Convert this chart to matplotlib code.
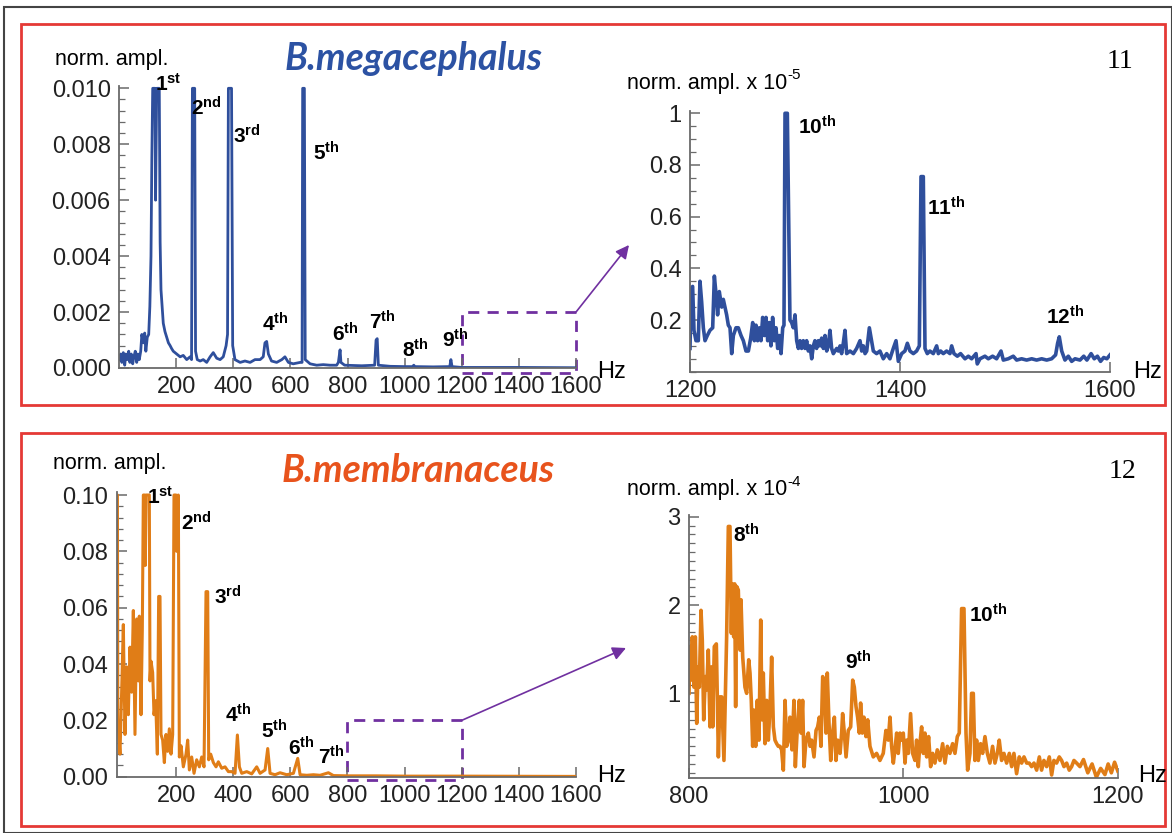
#!/usr/bin/env python3
"""
Normalised amplitude spectra of two Bombus species with zoomed insets
"""

import matplotlib
matplotlib.use("Agg")
import matplotlib.pyplot as plt
from matplotlib.patches import Rectangle
from matplotlib.ticker import MultipleLocator

plt.rcParams['font.family'] = ['Liberation Sans', 'DejaVu Sans']
plt.rcParams['mathtext.fontset'] = 'custom'
plt.rcParams['mathtext.rm'] = 'Liberation Sans'
plt.rcParams['mathtext.bf'] = 'Liberation Sans:bold'
plt.rcParams['mathtext.it'] = 'Liberation Sans:italic'

# ---- data: B. megacephalus, full spectrum (Hz, norm. ampl.) ----
mega_hz = [0, 6, 10, 15, 20, 24, 29, 34, 38, 43, 48, 52, 57, 62, 66, 71, 76, 80, 85, 90,
           94, 99, 104, 108, 112, 115, 118, 126, 128, 132, 141, 144, 147, 151, 155, 161,
           167, 173, 179, 184, 190, 202, 214, 225, 237, 249, 254, 257, 265, 268, 274,
           284, 295, 307, 319, 330, 342, 354, 365, 375, 380, 383, 394, 398, 406, 424,
           441, 459, 476, 494, 505, 511, 517, 523, 534, 552, 570, 581, 593, 610, 634,
           641, 643, 649, 652, 669, 692, 715, 739, 762, 768, 774, 777, 790, 850, 895,
           900, 904, 908, 950, 1000, 1028, 1032, 1036, 1100, 1158, 1162, 1166, 1200,
           1400, 1600]
mega_amp = [0.0003, 0.0005, 0.0002, 0.00055, 0.0001, 0.0005, 0.0003, 0.0006, 0.0002,
            0.0005, 0.00015, 0.0004, 0.0006, 0.0002, 0.0005, 0.0003, 0.0006, 0.0012,
            0.0009, 0.00125, 0.0006, 0.0011, 0.0012, 0.0022, 0.004, 0.0075, 0.0100,
            0.0100, 0.0060, 0.0100, 0.0100, 0.0045, 0.0028, 0.0022, 0.0016, 0.0013,
            0.0011, 0.0009, 0.0008, 0.0007, 0.0006, 0.0005, 0.0004, 0.00045, 0.0003,
            0.0004, 0.0003, 0.0100, 0.0100, 0.0006, 0.0003, 0.00025, 0.0003, 0.0002,
            0.0004, 0.00055, 0.00035, 0.0003, 0.0004, 0.0008, 0.0012, 0.0100, 0.0100,
            0.0008, 0.0003, 0.0002, 0.00025, 0.0002, 0.0003, 0.0003, 0.0004, 0.0009,
            0.00095, 0.0005, 0.00025, 0.0002, 0.0003, 0.0004, 0.0002, 0.00015, 0.0002,
            0.0002, 0.0100, 0.0100, 0.0003, 0.00015, 0.0001, 0.00012, 0.0001, 0.0001,
            0.0002, 0.00065, 0.0002, 0.0001, 0.00008, 0.0001, 0.0010, 0.00105, 0.0001,
            0.00006, 0.00005, 0.00005, 0.0001, 0.00005, 0.00004, 0.00005, 0.0003,
            0.00005, 0.00002, 0.00002, 0.00001]

# ---- B. megacephalus, 1200-1600 Hz (norm. ampl. x 1e-5) ----
mega_zoom_hz = [1200, 1201, 1202.5, 1203.8, 1205.7, 1207.9, 1209.5, 1211.1, 1212.7, 1214.3,
                1216.5, 1219, 1221.6, 1223.2, 1224.8, 1226.3, 1227.9, 1230.2, 1231.7, 1233.3,
                1234.9, 1236.5, 1238.1, 1239.7, 1241.3, 1243.8, 1246, 1248.6, 1250.8, 1253.3,
                1255.6, 1257.8, 1259.7, 1261.3, 1262.9, 1264.4, 1266, 1267.6, 1269.2, 1270.8,
                1272.4, 1274, 1275.6, 1277.1, 1278.7, 1280.3, 1281.9, 1283.5, 1285.1, 1286.7,
                1288.3, 1289.5, 1290.5, 1292.7, 1295.2, 1296.8, 1298.4, 1300, 1301.6, 1303.2,
                1304.8, 1306.3, 1307.9, 1309.5, 1311.1, 1312.7, 1314.3, 1315.9, 1317.5, 1319,
                1320.6, 1322.2, 1323.8, 1325.4, 1327, 1328.6, 1330.2, 1331.7, 1333.3, 1334.9,
                1336.5, 1339.7, 1341.3, 1342.9, 1344.4, 1346, 1347.6, 1349.2, 1352.4, 1355.6,
                1358.7, 1361.9, 1363.5, 1365.1, 1366.7, 1368.3, 1370.8, 1374.6, 1377.7, 1380.9,
                1384.1, 1387.3, 1390.4, 1393.6, 1396.2, 1398.4, 1401.6, 1404.7, 1407, 1409.5,
                1412.7, 1415.8, 1418.4, 1420, 1422.2, 1423.8, 1426, 1428.5, 1431.7, 1434.9,
                1436.5, 1438.7, 1441.2, 1444.4, 1447.6, 1449.2, 1451.4, 1454.6, 1457.7, 1461.9,
                1465.1, 1468.2, 1472.4, 1473.6, 1476.2, 1480.9, 1484.1, 1488.2, 1492, 1496.2,
                1498.4, 1503.1, 1507.9, 1511.1, 1515.8, 1520.6, 1525.4, 1530.1, 1534.9, 1539.7,
                1544.4, 1548.2, 1550.1, 1551.7, 1554, 1557.1, 1560.3, 1563.5, 1566.7, 1571.4,
                1575, 1578, 1582, 1585, 1588, 1591, 1594, 1597, 1600]
mega_zoom_amp = [0.09, 0.32, 0.33, 0.16, 0.12, 0.12, 0.35, 0.27, 0.17, 0.12,
                 0.14, 0.16, 0.17, 0.37, 0.30, 0.22, 0.31, 0.25, 0.28, 0.25,
                 0.22, 0.18, 0.17, 0.07, 0.14, 0.17, 0.17, 0.14, 0.12, 0.08,
                 0.08, 0.13, 0.19, 0.12, 0.18, 0.12, 0.17, 0.12, 0.21, 0.14,
                 0.21, 0.12, 0.19, 0.10, 0.21, 0.12, 0.17, 0.09, 0.14, 0.07,
                 0.17, 0.18, 1.00, 1.00, 0.20, 0.19, 0.17, 0.22, 0.12, 0.09,
                 0.12, 0.09, 0.12, 0.09, 0.12, 0.08, 0.10, 0.05, 0.10, 0.12,
                 0.09, 0.12, 0.10, 0.13, 0.09, 0.14, 0.08, 0.10, 0.16, 0.09,
                 0.07, 0.09, 0.08, 0.10, 0.07, 0.11, 0.16, 0.07, 0.08, 0.07,
                 0.09, 0.12, 0.08, 0.10, 0.07, 0.08, 0.17, 0.08, 0.07, 0.08,
                 0.05, 0.07, 0.05, 0.09, 0.12, 0.04, 0.07, 0.08, 0.11, 0.08,
                 0.07, 0.08, 0.10, 0.755, 0.755, 0.09, 0.07, 0.08, 0.07, 0.10,
                 0.07, 0.08, 0.07, 0.08, 0.07, 0.10, 0.07, 0.06, 0.07, 0.05,
                 0.06, 0.05, 0.07, 0.03, 0.05, 0.06, 0.05, 0.06, 0.05, 0.08,
                 0.045, 0.05, 0.06, 0.045, 0.05, 0.045, 0.05, 0.045, 0.05, 0.045,
                 0.05, 0.065, 0.11, 0.135, 0.08, 0.045, 0.06, 0.04, 0.05, 0.045,
                 0.06, 0.045, 0.07, 0.05, 0.06, 0.04, 0.055, 0.05, 0.065]

# ---- B. membranaceus, full spectrum ----
memb_hz = [-7, -5.5, -4, 3.5, 9.3, 15.2, 21, 26.9, 32.7, 38.5, 44.4, 50.2, 56, 61.9, 67.7,
           71.2, 77.1, 81.7, 85.2, 90, 92, 95, 106.2, 108.6, 112.1, 117.9, 122.6, 128.4,
           134.3, 138.9, 143.6, 147.1, 152.9, 158.8, 164.6, 170.5, 176.3, 182.1, 188,
           192.6, 200, 202, 207.8, 211.3, 217.1, 225.3, 234.7, 240.5, 246.4, 254.5, 262.7,
           272, 281.4, 289.6, 297.7, 304.7, 310.6, 314.1, 321.1, 330.4, 339.8, 347.9,
           359.6, 371.3, 383, 394.6, 406.3, 414.5, 421.5, 429.7, 447.2, 464.7, 482.2,
           493.9, 511.4, 520.7, 528.9, 546.4, 563.9, 587.3, 610.6, 625.8, 634, 657.3,
           680.7, 704, 733.2, 750.7, 800, 900, 1000, 1200, 1400, 1600]
memb_amp = [0.10, 0.10, 0.02, 0.008, 0.030, 0.054, 0.015, 0.039, 0.022, 0.046, 0.030, 0.059,
            0.015, 0.056, 0.034, 0.057, 0.022, 0.052, 0.10, 0.10, 0.075, 0.10, 0.10, 0.034,
            0.041, 0.037, 0.022, 0.027, 0.008, 0.064, 0.064, 0.015, 0.013, 0.005, 0.015,
            0.009, 0.017, 0.008, 0.015, 0.10, 0.10, 0.08, 0.10, 0.007, 0.011, 0.0035,
            0.008, 0.013, 0.0024, 0.007, 0.0012, 0.006, 0.0035, 0.007, 0.0035, 0.0657,
            0.0657, 0.006, 0.008, 0.005, 0.0035, 0.0053, 0.003, 0.0035, 0.0018, 0.0018,
            0.0012, 0.0148, 0.0035, 0.0012, 0.0018, 0.001, 0.0035, 0.0012, 0.0024, 0.010,
            0.0012, 0.0007, 0.0014, 0.0007, 0.0012, 0.0065, 0.0007, 0.0005, 0.0007, 0.0005,
            0.0014, 0.0004, 0.0003, 0.0003, 0.0002, 0.0002, 0.00015, 0.0001]

# ---- B. membranaceus, 800-1200 Hz (norm. ampl. x 1e-4) ----
memb_zoom_hz = [800, 800.9, 801.9, 803.1, 804.7, 805.9, 807.2, 808.4, 809.6, 811.2, 812.4,
                813.7, 815.2, 816.5, 818, 819.6, 821.1, 822.1, 823.6, 825.5, 827.4, 828.9,
                830.5, 832.6, 835.1, 836.7, 838.2, 839.5, 840.4, 841.7, 842.6, 843.5, 844.5,
                846, 847.6, 848.5, 850.1, 852.2, 853.8, 855.7, 856.9, 858.1, 859.4, 860.6,
                862.2, 863.7, 865.3, 866.9, 868.1, 869.3, 870.9, 872.5, 874, 875.6, 877.1,
                878.7, 880.2, 881.8, 883.3, 884.9, 886.4, 888, 889.6, 891.1, 892.7, 894.2,
                896.1, 897.9, 899.2, 901.1, 902.9, 904.5, 906, 907.3, 909.1, 911.3, 912.9,
                914.4, 916.6, 918.5, 920, 921.6, 923.1, 924.7, 926.2, 927.8, 929, 930.6,
                932.2, 934, 935.6, 937.1, 938.7, 940.9, 942.4, 943.3, 944.9, 946.5, 948.6,
                950.8, 952.7, 954.2, 955.8, 957.3, 958.9, 960.1, 961.7, 963.2, 965.1, 966.7,
                968.8, 971.9, 975, 978.1, 981.2, 983.7, 985.9, 987.5, 989, 990.6, 992.1,
                993.7, 995.2, 996.8, 998.3, 999.9, 1001.5, 1003, 1004.6, 1006.7, 1008.6,
                1010.8, 1012.3, 1013.9, 1015.4, 1017, 1018.6, 1020.1, 1021.7, 1023.5, 1025.4,
                1027.3, 1029.4, 1031.6, 1034.1, 1036.6, 1038.8, 1041, 1043.4, 1045.9, 1048.1,
                1050.3, 1052.1, 1054.3, 1056.5, 1058.4, 1059.9, 1062.1, 1063.6, 1065.2, 1066.7,
                1068.3, 1069.9, 1072, 1073.9, 1076.1, 1078.3, 1080.7, 1083.2, 1085.4, 1087.6,
                1089.4, 1091.6, 1093.8, 1096.3, 1098.8, 1101, 1103.1, 1105.6, 1108.1, 1110.3,
                1112.5, 1115, 1117.4, 1119.6, 1121.8, 1124.3, 1126.8, 1128.9, 1131.1, 1133.6,
                1136.1, 1138.3, 1140.4, 1142.9, 1145.4, 1147.6, 1149.8, 1152.3, 1154.7, 1156.9,
                1159.1, 1161.6, 1164.7, 1168, 1172, 1176, 1180, 1184, 1188, 1191, 1194, 1197,
                1200]
memb_zoom_amp = [1.00, 1.53, 1.15, 1.64, 1.07, 1.64, 0.66, 1.30, 1.07, 1.94, 1.60,
                 0.70, 1.19, 1.04, 1.49, 0.62, 1.30, 0.62, 1.53, 1.56, 0.28, 0.96,
                 0.96, 0.24, 1.64, 2.89, 2.89, 1.68, 2.24, 1.64, 2.24, 0.85, 2.21,
                 2.17, 1.49, 2.06, 1.41, 1.07, 1.00, 1.38, 1.23, 0.92, 0.40, 0.81,
                 0.40, 0.92, 0.47, 1.83, 0.70, 1.23, 0.43, 0.92, 0.47, 0.85, 1.41,
                 0.62, 0.47, 0.43, 0.40, 0.40, 0.36, 0.13, 0.92, 0.40, 0.47, 0.73,
                 0.36, 0.92, 0.17, 0.62, 0.92, 0.55, 0.92, 0.17, 0.47, 0.55, 0.40,
                 0.47, 0.28, 0.58, 0.62, 0.73, 0.40, 1.19, 1.11, 0.55, 1.23, 0.66,
                 0.24, 0.55, 0.73, 0.24, 0.47, 0.32, 0.55, 0.77, 0.55, 0.28, 0.58,
                 0.62, 1.15, 1.07, 0.85, 0.73, 0.55, 0.89, 0.55, 0.73, 0.51, 0.70,
                 0.40, 0.28, 0.32, 0.24, 0.32, 0.58, 0.47, 0.73, 0.40, 0.21, 0.36,
                 0.55, 0.32, 0.55, 0.47, 0.55, 0.21, 0.47, 0.32, 0.77, 0.32,
                 0.24, 0.47, 0.17, 0.43, 0.62, 0.32, 0.55, 0.28, 0.51, 0.17,
                 0.32, 0.21, 0.36, 0.24, 0.43, 0.21, 0.40, 0.32, 0.43, 0.32,
                 0.51, 0.55, 1.96, 1.96, 0.55, 0.13, 0.32, 1.00, 1.00, 0.24,
                 0.47, 0.24, 0.43, 0.32, 0.51, 0.32, 0.21, 0.40, 0.21, 0.32,
                 0.47, 0.24, 0.32, 0.21, 0.32, 0.17, 0.32, 0.09, 0.28, 0.21,
                 0.28, 0.21, 0.21, 0.17, 0.21, 0.13, 0.28, 0.13, 0.24, 0.17,
                 0.28, 0.075, 0.24, 0.21, 0.28, 0.24, 0.17, 0.21, 0.13, 0.17,
                 0.24, 0.21, 0.17, 0.25, 0.10, 0.20, 0.05, 0.15, 0.08, 0.20, 0.10, 0.22,
                 0.12]

# harmonic labels
mega_labels = ['1', '2', '3', '4', '5', '6', '7', '8', '9']
mega_suffix = ['st', 'nd', 'rd', 'th', 'th', 'th', 'th', 'th', 'th']
mega_zoom_labels = ['10', '11', '12']
memb_labels = ['1', '2', '3', '4', '5', '6', '7']
memb_suffix = ['st', 'nd', 'rd', 'th', 'th', 'th', 'th']
memb_zoom_labels = ['8', '9', '10']

# ---- layout (pixel based) ----
W, H = 1172, 833
blue = '#2F4F9C'
title_blue = '#2C52A3'
orange = '#E07D17'
title_orange = '#E8531C'
purple = '#7030A0'
red = '#E53935'
axis_gray = '#6a6a6a'


def add_px_axes(fig, x0, x1, ytop, ybot):
    return fig.add_axes([x0 / W, 1 - ybot / H, (x1 - x0) / W, (ybot - ytop) / H])


def fpos(px, py):
    return px / W, 1 - py / H


def style(ax, size=17):
    for s in ['top', 'right']:
        ax.spines[s].set_visible(False)
    for s in ['left', 'bottom']:
        ax.spines[s].set_color(axis_gray)
        ax.spines[s].set_linewidth(1.3)
    ax.tick_params(which='major', direction='in', length=7, width=1.1, color=axis_gray,
                   labelsize=size, labelcolor='#222222', pad=6)
    ax.tick_params(which='minor', direction='in', length=4, width=0.9, color=axis_gray)
    ax.tick_params(axis='x', which='minor', length=0)
    ax.patch.set_visible(False)


def ordinal(n, suf):
    return r'$\mathbf{' + n + '^{' + suf + '}}$'


def scaled_label(fig, px, py, exp):
    t = fig.text(*fpos(px, py), 'norm. ampl. x 10', fontsize=15, ha='left', va='center')
    fig.text(0, 0, exp, fontsize=11, ha='left', va='center')
    fig.texts[-1].remove()
    fig.axes[0].annotate(exp, xy=(1.0, 0.95), xycoords=t, fontsize=11,
                         ha='left', va='center', annotation_clip=False)


fig = plt.figure(figsize=(W / 100, H / 100), dpi=100)

# frames
fig.add_artist(Rectangle(fpos(4, 833), 1168 / W, 826 / H, transform=fig.transFigure,
                         fill=False, edgecolor='#444444', lw=1.5))
fig.add_artist(Rectangle(fpos(21, 405), 1144 / W, 381 / H, transform=fig.transFigure,
                         fill=False, edgecolor=red, lw=2))
fig.add_artist(Rectangle(fpos(21, 826), 1144 / W, 393 / H, transform=fig.transFigure,
                         fill=False, edgecolor=red, lw=2))

title_font = dict(fontweight='bold', fontstyle='italic', family=['Lato', 'Liberation Sans'])

# ---- top left ----
ax1 = add_px_axes(fig, 119, 576, 85.5, 368)
ax1.plot(mega_hz, mega_amp, color=blue, lw=2.0)
ax1.set_xlim(0, 1600)
ax1.set_ylim(0, 0.0101)
ax1.set_xticks([200, 400, 600, 800, 1000, 1200, 1400, 1600])
ax1.set_yticks([0, 0.002, 0.004, 0.006, 0.008, 0.010])
ax1.set_yticklabels(['0.000', '0.002', '0.004', '0.006', '0.008', '0.010'])
ax1.yaxis.set_minor_locator(MultipleLocator(0.0004))
style(ax1)
pos1 = [(126, 0.01015), (251, 0.0093), (400, 0.0083), (502, 0.00157), (680, 0.0077),
        (745, 0.00122), (876, 0.00166), (990, 0.00064), (1130, 0.0010)]
for (x, y), n, s in zip(pos1, mega_labels, mega_suffix):
    ax1.text(x, y, ordinal(n, s), fontsize=15, ha='left', va='center')
ax1.add_patch(Rectangle((1200, -0.00017), 400, 0.00217, fill=False, edgecolor=purple,
                        lw=2, ls=(0, (4, 3)), clip_on=False))
ax1.annotate('', xy=fpos(629, 245), xycoords='figure fraction', xytext=(1600, 0.002),
             textcoords='data', arrowprops=dict(arrowstyle='-|>', color=purple, lw=1.2,
                                                mutation_scale=20, shrinkA=0, shrinkB=0))
fig.text(*fpos(55, 59), 'norm. ampl.', fontsize=15.5, ha='left', va='center')
fig.text(*fpos(597, 372), 'Hz', fontsize=17, ha='left', va='center')
fig.text(*fpos(414, 59), 'B.megacephalus', fontsize=27, ha='center', va='center',
         color=title_blue, **title_font)

# ---- top right ----
ax2 = add_px_axes(fig, 690, 1110, 110.7, 371.7)
ax2.plot(mega_zoom_hz, mega_zoom_amp, color=blue, lw=2.6)
ax2.set_xlim(1200, 1600)
ax2.set_ylim(0, 1.01)
ax2.set_xticks([1200, 1400, 1600])
ax2.set_yticks([0.2, 0.4, 0.6, 0.8, 1.0])
ax2.set_yticklabels(['0.2', '0.4', '0.6', '0.8', '1'])
ax2.yaxis.set_minor_locator(MultipleLocator(0.05))
style(ax2)
pos2 = [(1303, 0.946), (1426, 0.635), (1539, 0.213)]
for (x, y), n in zip(pos2, mega_zoom_labels):
    ax2.text(x, y, ordinal(n, 'th'), fontsize=15, ha='left', va='center')
t2 = fig.text(*fpos(627, 83), 'norm. ampl. x 10', fontsize=15.5, ha='left', va='center')
ax2.annotate('-5', xy=(1.0, 0.9), xycoords=t2, fontsize=11, ha='left', va='center',
             annotation_clip=False)
fig.text(*fpos(1133, 372), 'Hz', fontsize=17, ha='left', va='center')
fig.text(*fpos(1120, 61), '11', fontsize=20, ha='center', va='center',
         family=['Liberation Serif'])

# ---- bottom left ----
ax3 = add_px_axes(fig, 116.7, 576, 492.2, 776.7)
ax3.plot(memb_hz, memb_amp, color=orange, lw=2.2)
ax3.set_xlim(-8, 1600)
ax3.set_ylim(0, 0.101)
ax3.set_xticks([200, 400, 600, 800, 1000, 1200, 1400, 1600])
ax3.set_yticks([0, 0.02, 0.04, 0.06, 0.08, 0.10])
ax3.set_yticklabels(['0.00', '0.02', '0.04', '0.06', '0.08', '0.10'])
ax3.yaxis.set_minor_locator(MultipleLocator(0.004))
style(ax3)
pos3 = [(97, 0.0992), (217, 0.090), (334, 0.0639), (371, 0.0219), (497, 0.0163),
        (591, 0.0104), (698, 0.0071)]
for (x, y), n, s in zip(pos3, memb_labels, memb_suffix):
    ax3.text(x, y, ordinal(n, s), fontsize=15, ha='left', va='center')
ax3.add_patch(Rectangle((800, -0.001), 400, 0.021, fill=False, edgecolor=purple,
                        lw=2, ls=(0, (4, 3)), clip_on=False))
ax3.annotate('', xy=fpos(626, 648), xycoords='figure fraction', xytext=(1200, 0.02),
             textcoords='data', arrowprops=dict(arrowstyle='-|>', color=purple, lw=1.2,
                                                mutation_scale=20, shrinkA=0, shrinkB=0))
fig.text(*fpos(53, 464), 'norm. ampl.', fontsize=15.5, ha='left', va='center')
fig.text(*fpos(597, 776), 'Hz', fontsize=17, ha='left', va='center')
fig.text(*fpos(418, 470), 'B.membranaceus', fontsize=27, ha='center', va='center',
         color=title_orange, **title_font)

# ---- bottom right ----
ax4 = add_px_axes(fig, 689, 1117.8, 515.0, 778.1)
ax4.plot(memb_zoom_hz, memb_zoom_amp, color=orange, lw=2.6)
ax4.set_xlim(800, 1200)
ax4.set_ylim(0.04, 3.02)
ax4.set_xticks([800, 1000, 1200])
ax4.set_yticks([1, 2, 3])
ax4.set_yticklabels(['1', '2', '3'])
ax4.yaxis.set_minor_locator(MultipleLocator(0.1))
style(ax4)
pos4 = [(841, 2.80), (945.5, 1.36), (1061.5, 1.89)]
for (x, y), n in zip(pos4, memb_zoom_labels):
    ax4.text(x, y, ordinal(n, 'th'), fontsize=15, ha='left', va='center')
t4 = fig.text(*fpos(627, 490), 'norm. ampl. x 10', fontsize=15.5, ha='left', va='center')
ax4.annotate('-4', xy=(1.0, 0.9), xycoords=t4, fontsize=11, ha='left', va='center',
             annotation_clip=False)
fig.text(*fpos(1138, 776), 'Hz', fontsize=17, ha='left', va='center')
fig.text(*fpos(1122, 472), '12', fontsize=20, ha='center', va='center',
         family=['Liberation Serif'])

plt.savefig('out.png', dpi=100)
